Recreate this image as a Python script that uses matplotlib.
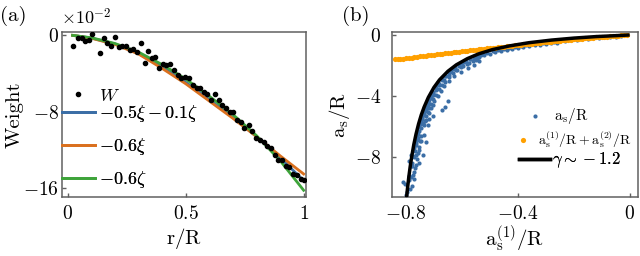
import matplotlib
matplotlib.use("Agg")
import matplotlib.pyplot as plt
from matplotlib.lines import Line2D

plt.rcParams['mathtext.fontset'] = 'cm'
plt.rcParams['font.family'] = 'serif'
plt.rcParams['font.serif'] = ['cmr10', 'DejaVu Serif']
plt.rcParams['axes.unicode_minus'] = False

# ---- panel (a): weight vs r/R (values in units of 1e-2) ----
r_dots = [0.023, 0.044, 0.058, 0.074, 0.089, 0.103, 0.136, 0.152, 0.167, 0.183,
          0.199, 0.216, 0.231, 0.247, 0.263, 0.278, 0.294, 0.309, 0.325, 0.340,
          0.356, 0.371, 0.387, 0.403, 0.418, 0.434, 0.450, 0.465, 0.481, 0.497,
          0.512, 0.531, 0.548, 0.562, 0.576, 0.591, 0.607, 0.623, 0.640, 0.655,
          0.672, 0.686, 0.702, 0.718, 0.733, 0.749, 0.767, 0.782, 0.799, 0.814,
          0.831, 0.846, 0.860, 0.878, 0.892, 0.909, 0.926, 0.940, 0.956, 0.971,
          0.987, 1.000]
w_dots = [-1.18, -0.35, -0.35, -0.60, -0.52, 0.10, -1.88, -0.35, -0.87, -1.18,
          -0.24, -1.26, -1.12, -1.18, -1.54, -1.46, -1.75, -0.81, -2.96, -1.70,
          -2.44, -2.33, -3.42, -3.03, -3.14, -3.03, -3.66, -4.18, -4.53, -4.39,
          -4.47, -5.23, -5.51, -5.51, -5.93, -6.20, -6.80, -6.20, -6.80, -7.32,
          -7.67, -8.09, -8.09, -8.89, -9.07, -9.70, -9.41, -10.00, -10.70, -10.98,
          -11.16, -11.61, -11.75, -12.55, -13.00, -13.00, -13.70, -13.78, -14.47, -14.64,
          -14.99, -15.17]

r_fit = [0.02, 0.1, 0.2, 0.3, 0.4, 0.5, 0.6, 0.7, 0.8, 0.9, 1.0]
w_fit_xz = [-0.05, -0.33, -0.95, -1.95, -3.35, -4.95, -6.75, -8.60, -10.60, -12.80, -15.20]
w_fit_x = [-0.05, -0.35, -1.00, -2.00, -3.50, -5.10, -6.90, -8.70, -10.60, -12.60, -14.50]
w_fit_z = [-0.05, -0.30, -0.90, -1.80, -3.10, -4.60, -6.40, -8.30, -10.50, -13.10, -16.20]

# ---- panel (b): a_s/R vs a_s^(1)/R ----
curve_x = [-0.798, -0.795, -0.790, -0.785, -0.780, -0.772, -0.764, -0.755, -0.745,
           -0.735, -0.720, -0.700, -0.680, -0.650, -0.620, -0.580, -0.540, -0.490,
           -0.430, -0.360, -0.280, -0.200, -0.120, -0.050, -0.006]
curve_y = [-10.64, -10.11, -9.31, -8.62, -8.02, -7.17, -6.48, -5.82, -5.21,
           -4.71, -4.08, -3.43, -2.93, -2.37, -1.95, -1.54, -1.23, -0.95,
           -0.71, -0.50, -0.33, -0.20, -0.10, -0.04, 0.0]

blue_x = [-0.810, -0.802, -0.788, -0.776, -0.770, -0.782, -0.764, -0.788, -0.782, -0.752,
          -0.764, -0.770, -0.752, -0.740, -0.764, -0.758, -0.746, -0.728, -0.754, -0.746,
          -0.734, -0.740, -0.722, -0.743, -0.728, -0.717, -0.734, -0.717, -0.704, -0.728,
          -0.710, -0.722, -0.704, -0.717, -0.699, -0.704, -0.686, -0.693, -0.675, -0.681,
          -0.663, -0.663, -0.645, -0.645, -0.627, -0.621, -0.603, -0.597, -0.579, -0.573,
          -0.556, -0.549, -0.538,
          -0.795, -0.800, -0.790, -0.780, -0.775, -0.768, -0.760, -0.752, -0.745, -0.738,
          -0.730, -0.722, -0.712, -0.702, -0.692, -0.684, -0.672, -0.660, -0.650, -0.638,
          -0.626, -0.612, -0.598, -0.584, -0.570, -0.556, -0.542, -0.650, -0.660, -0.672,
          -0.787, -0.778, -0.782, -0.772, -0.777, -0.767, -0.772, -0.762, -0.764, -0.754,
          -0.756, -0.746, -0.747, -0.737, -0.737, -0.727, -0.727, -0.717, -0.712, -0.702,
          -0.692, -0.682, -0.672, -0.662, -0.642, -0.632, -0.612, -0.602, -0.572, -0.562,
          -0.702, -0.692, -0.682, -0.672, -0.657, -0.647, -0.627, -0.617, -0.592, -0.582,
          -0.552, -0.545, -0.742, -0.732, -0.732, -0.722, -0.720, -0.710, -0.760, -0.750,
          -0.768, -0.758,
          -0.53, -0.51, -0.49, -0.47, -0.45, -0.43, -0.41, -0.39, -0.37, -0.35,
          -0.33, -0.31, -0.29, -0.27, -0.25, -0.23, -0.21, -0.19, -0.17, -0.15,
          -0.13, -0.11, -0.09, -0.07, -0.05, -0.03,
          -0.54, -0.52, -0.50, -0.48, -0.46, -0.44, -0.42, -0.40, -0.38, -0.36,
          -0.34, -0.32, -0.30, -0.28, -0.26]
blue_y = [-9.62, -9.75, -9.25, -9.14, -8.97, -8.59, -8.49, -8.22, -7.83, -8.38,
          -7.83, -7.40, -7.50, -7.83, -7.07, -6.74, -6.96, -7.00, -6.30, -6.09,
          -6.52, -5.76, -5.87, -5.43, -5.54, -5.48, -5.10, -5.10, -5.32, -4.78,
          -4.78, -4.56, -4.60, -4.23, -4.34, -3.91, -4.01, -3.58, -3.69, -3.25,
          -3.36, -2.92, -3.03, -2.60, -2.70, -2.27, -2.42, -2.05, -2.16, -1.83,
          -1.94, -1.62, -1.72,
          -10.30, -10.50, -9.50, -8.40, -7.90, -7.20, -6.60, -6.00, -5.60, -5.20,
          -4.90, -4.40, -4.00, -3.70, -3.35, -3.10, -2.85, -2.65, -2.45, -2.30,
          -2.12, -1.98, -1.85, -1.72, -1.60, -1.50, -1.40, -4.30, -4.70, -4.90,
          -10.10, -9.90, -9.30, -9.40, -8.60, -8.70, -8.00, -8.10, -7.20, -7.30,
          -6.50, -6.60, -5.80, -5.90, -5.20, -5.30, -4.70, -4.80, -4.10, -4.20,
          -3.45, -3.55, -2.95, -3.05, -2.40, -2.50, -2.00, -2.10, -1.60, -1.70,
          -3.80, -3.90, -3.20, -3.30, -2.66, -2.75, -2.20, -2.30, -1.78, -1.88,
          -1.44, -1.55, -5.50, -5.60, -4.95, -5.05, -4.40, -4.50, -6.85, -6.95,
          -7.60, -7.70,
          -1.29, -1.17, -1.07, -0.99, -0.90, -0.83, -0.77, -0.70, -0.645, -0.595,
          -0.55, -0.51, -0.47, -0.43, -0.395, -0.36, -0.33, -0.30, -0.27, -0.24,
          -0.21, -0.18, -0.15, -0.12, -0.10, -0.07,
          -1.45, -1.33, -1.22, -1.13, -1.04, -0.96, -0.89, -0.83, -0.77, -0.72,
          -0.67, -0.62, -0.58, -0.54, -0.50]

orange_x = [-0.84, -0.83, -0.82, -0.81, -0.80, -0.79, -0.78, -0.77, -0.76, -0.75,
            -0.74, -0.73, -0.72, -0.71, -0.70, -0.69, -0.68, -0.67, -0.66, -0.65,
            -0.64, -0.63, -0.62, -0.61, -0.60, -0.59, -0.58, -0.57, -0.56, -0.55,
            -0.54, -0.53, -0.52, -0.51, -0.50, -0.49, -0.48, -0.47, -0.46, -0.45,
            -0.44, -0.43, -0.42, -0.41, -0.40, -0.39, -0.38, -0.37, -0.36, -0.35,
            -0.34, -0.33, -0.32, -0.31, -0.30, -0.29, -0.28, -0.27, -0.26, -0.25,
            -0.24, -0.23, -0.22, -0.21, -0.20, -0.19, -0.18, -0.17, -0.16, -0.15,
            -0.14, -0.13, -0.12, -0.11, -0.10, -0.09, -0.08, -0.07, -0.06, -0.05,
            -0.04, -0.03, -0.02, -0.01]
orange_y = [-1.600, -1.580, -1.555, -1.535, -1.510, -1.490, -1.470, -1.445, -1.425, -1.400,
            -1.380, -1.360, -1.335, -1.315, -1.290, -1.270, -1.250, -1.225, -1.205, -1.180,
            -1.160, -1.140, -1.115, -1.095, -1.070, -1.050, -1.030, -1.005, -0.985, -0.965,
            -0.940, -0.920, -0.900, -0.880, -0.855, -0.835, -0.815, -0.795, -0.775, -0.755,
            -0.735, -0.710, -0.695, -0.675, -0.655, -0.635, -0.615, -0.595, -0.575, -0.555,
            -0.535, -0.520, -0.500, -0.480, -0.465, -0.445, -0.425, -0.410, -0.390, -0.375,
            -0.355, -0.340, -0.320, -0.305, -0.290, -0.270, -0.255, -0.240, -0.220, -0.205,
            -0.190, -0.175, -0.160, -0.140, -0.125, -0.110, -0.095, -0.080, -0.065, -0.050,
            -0.035, -0.020, -0.010, 0.000]

c_blue = '#3b6ea6'
c_orange = '#da701e'
c_green = '#3ea43a'
c_bright = '#ffa000'
frame = '#606060'


def style(ax):
    for s in ax.spines.values():
        s.set_color(frame)
        s.set_linewidth(1.1)
    ax.tick_params(direction='in', length=3, width=1, color=frame,
                   labelsize=14, pad=6)


def one_legend(ax, handles, labels, anchor, size, hlen, pad, spacing=0.5):
    leg = ax.legend(handles, labels, loc='center left', bbox_to_anchor=anchor,
                    frameon=False, fontsize=size, borderpad=0, borderaxespad=0,
                    handlelength=hlen, handletextpad=pad, labelspacing=spacing,
                    scatterpoints=1)
    ax.add_artist(leg)
    return leg


fig = plt.figure(figsize=(6.4, 2.56), dpi=100)
axa = fig.add_axes([62 / 640, 59 / 256, 244 / 640, 165 / 256])
axb = fig.add_axes([392 / 640, 59 / 256, 246 / 640, 165 / 256])

# panel (a)
axa.plot(r_dots, w_dots, 'o', color='black', ms=3, zorder=5)
lb, = axa.plot(r_fit, w_fit_xz, color=c_blue, lw=2)
lo, = axa.plot(r_fit, w_fit_x, color=c_orange, lw=2)
lg, = axa.plot(r_fit, w_fit_z, color=c_green, lw=2)
axa.set_xlim(-0.025, 1.01)
axa.set_ylim(-16.9, 0.3)
axa.set_xticks([0, 0.5, 1])
axa.set_xticklabels(['$0$', '$0.5$', '$1$'])
axa.set_yticks([0, -8, -16])
axa.set_yticklabels(['$0$', '$-8$', '$-16$'])
style(axa)
axa.tick_params(axis='y', pad=2)
axa.set_xlabel(r'$\mathrm{r/R}$', fontsize=15, labelpad=2)
axa.set_ylabel('Weight', fontsize=15, labelpad=0)
axa.text(-0.005, 1.03, r'$\times10^{-2}$', transform=axa.transAxes, fontsize=13,
         ha='left', va='bottom')

hw = Line2D([], [], ls='none', marker='o', color='black', ms=3)
one_legend(axa, [hw], [r'$W$'], (0.0, 0.615), 13, 1.8, 0.25)
one_legend(axa, [lb, lo, lg], [r'$-0.5\xi-0.1\zeta$', r'$-0.6\xi$', r'$-0.6\zeta$'],
           (0.0, 0.305), 13, 1.8, 0.25, spacing=0.65)

# panel (b)
sb = axb.scatter(blue_x, blue_y, s=9, color=c_blue, linewidths=0, zorder=2)
so = axb.scatter(orange_x, orange_y, s=14, color=c_bright, linewidths=0, zorder=3)
lk, = axb.plot(curve_x, curve_y, color='black', lw=2.5, zorder=4)
axb.set_xlim(-0.85, 0.03)
axb.set_ylim(-10.6, 0.2)
axb.set_xticks([-0.8, -0.4, 0])
axb.set_xticklabels(['$-0.8$', '$-0.4$', '$0$'])
axb.set_yticks([0, -4, -8])
axb.set_yticklabels(['$0$', '$-4$', '$-8$'])
style(axb)
axb.tick_params(axis='y', pad=8)
axb.set_xlabel(r'$\mathrm{a_s^{(1)}/R}$', fontsize=15, labelpad=0)
axb.set_ylabel(r'$\mathrm{a_s/R}$', fontsize=15, labelpad=2)

one_legend(axb, [sb], [r'$\mathrm{a_s/R}$'], (0.53, 0.49), 11, 1.6, 0.5)
one_legend(axb, [so], [r'$\mathrm{a_s^{(1)}/R+a_s^{(2)}/R}$'], (0.488, 0.35), 10, 1.6, 0.3)
one_legend(axb, [lk], [r'$\gamma\sim-1.2$'], (0.516, 0.22), 12, 1.85, 0.15)

fig.text(0 / 640, 1 - 16 / 256, '(a)', fontsize=15, ha='left', va='center')
fig.text(342 / 640, 1 - 16 / 256, '(b)', fontsize=15, ha='left', va='center')

fig.savefig('out.png', dpi=100)
